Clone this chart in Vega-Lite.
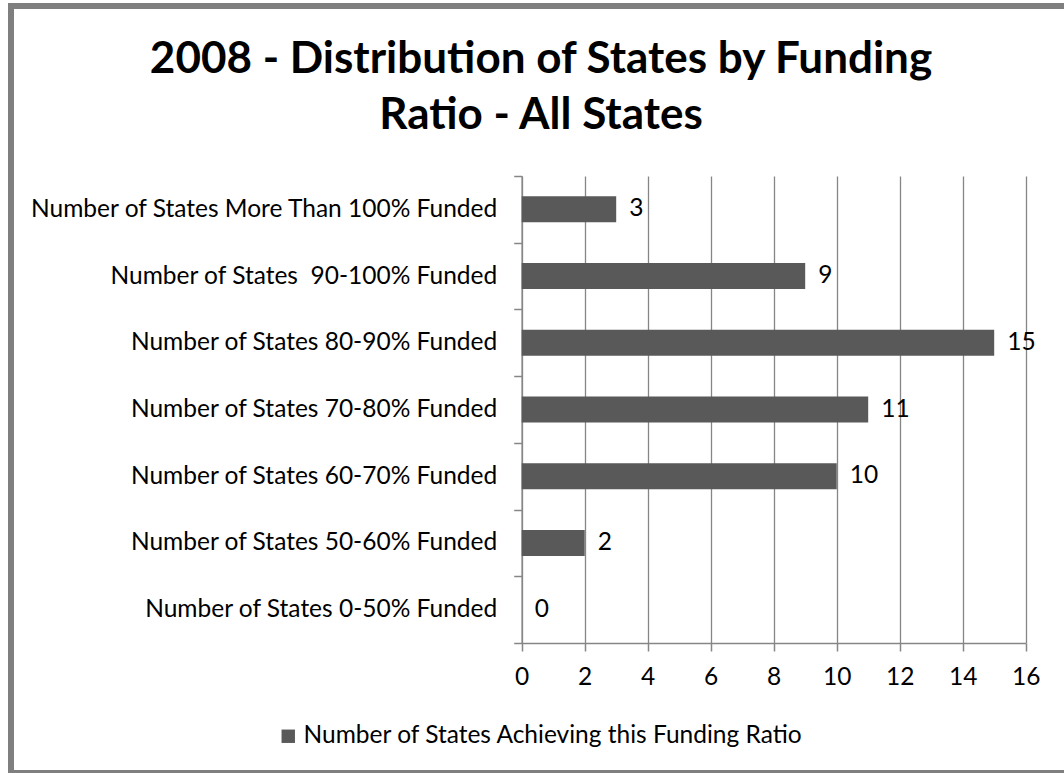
{
  "$schema": "https://vega.github.io/schema/vega-lite/v6.json",
  "width": 1100,
  "height": 767,
  "autosize": {"type": "none"},
  "padding": {"left": 11, "top": 6, "right": -47, "bottom": 0},
  "background": "white",
  "config": {
    "view": {"stroke": "#7f7f7f", "strokeWidth": 6, "fill": "white"},
    "font": "Lato"
  },
  "title": {
    "text": ["2008 - Distribution of States by Funding", "Ratio - All States"],
    "font": "Lato",
    "fontSize": 44,
    "fontWeight": "bold",
    "color": "black",
    "anchor": "middle",
    "frame": "group",
    "baseline": "top",
    "offset": -145,
    "lineHeight": 56,
    "dx": -20
  },
  "data": {
    "values": [
      {"category": "Number of States More Than 100% Funded", "count": 3, "series": "Number of States Achieving this Funding Ratio"},
      {"category": "Number of States \u00a090-100% Funded", "count": 9, "series": "Number of States Achieving this Funding Ratio"},
      {"category": "Number of States 80-90% Funded", "count": 15, "series": "Number of States Achieving this Funding Ratio"},
      {"category": "Number of States 70-80% Funded", "count": 11, "series": "Number of States Achieving this Funding Ratio"},
      {"category": "Number of States 60-70% Funded", "count": 10, "series": "Number of States Achieving this Funding Ratio"},
      {"category": "Number of States 50-60% Funded", "count": 2, "series": "Number of States Achieving this Funding Ratio"},
      {"category": "Number of States 0-50% Funded", "count": 0, "series": "Number of States Achieving this Funding Ratio"}
    ]
  },
  "encoding": {
    "y": {
      "field": "category",
      "type": "nominal",
      "sort": null,
      "scale": {"range": [170, 637], "paddingInner": 0, "paddingOuter": 0},
      "axis": {
        "orient": "left",
        "offset": -510.7,
        "title": null,
        "tickBand": "extent",
        "tickSize": 8,
        "labelPadding": 17,
        "labelFont": "Lato",
        "labelFontSize": 24.5,
        "labelColor": "black",
        "labelLimit": 0,
        "domainColor": "#868686",
        "domainWidth": 1.5,
        "tickColor": "#868686",
        "tickWidth": 1.5,
        "grid": false
      }
    }
  },
  "resolve": {"axis": {"x": "independent"}},
  "layer": [
    {
      "mark": {"type": "bar", "height": {"band": 0.39}, "color": "#595959"},
      "encoding": {
        "x": {
          "field": "count",
          "type": "quantitative",
          "scale": {"domain": [0, 16], "range": [510.7, 1014.7], "nice": false},
          "axis": {
            "orient": "bottom",
            "offset": -130,
            "title": null,
            "values": [0, 2, 4, 6, 8, 10, 12, 14, 16],
            "grid": false,
            "domainColor": "#868686",
            "domainWidth": 1.5,
            "tickColor": "#868686",
            "tickWidth": 1.5,
            "tickSize": 8,
            "labelPadding": 14,
            "labelFont": "Lato",
            "labelFontSize": 24.5,
            "labelColor": "black",
            "labelFlush": false
          }
        },
        "color": {
          "field": "series",
          "type": "nominal",
          "scale": {"range": ["#595959"]},
          "legend": {
            "orient": "none",
            "legendX": 265,
            "legendY": 718,
            "title": null,
            "symbolType": "square",
            "symbolSize": 180,
            "symbolStrokeWidth": 0,
            "labelFont": "Lato",
            "labelFontSize": 24.5,
            "labelColor": "black",
            "labelOffset": 3,
            "labelLimit": 0
          }
        }
      }
    },
    {
      "mark": {"type": "text", "align": "left", "baseline": "middle", "dx": 13, "font": "Lato", "fontSize": 24.5, "color": "black"},
      "encoding": {
        "x": {
          "field": "count",
          "type": "quantitative",
          "scale": {"domain": [0, 16], "range": [510.7, 1014.7], "nice": false},
          "axis": {
            "orient": "top",
            "title": null,
            "values": [0, 2, 4, 6, 8, 10, 12, 14, 16],
            "grid": true,
            "gridColor": "#868686",
            "gridWidth": 1.3,
            "labels": false,
            "ticks": false,
            "domain": false
          }
        },
        "text": {"field": "count", "type": "quantitative"}
      }
    }
  ]
}
